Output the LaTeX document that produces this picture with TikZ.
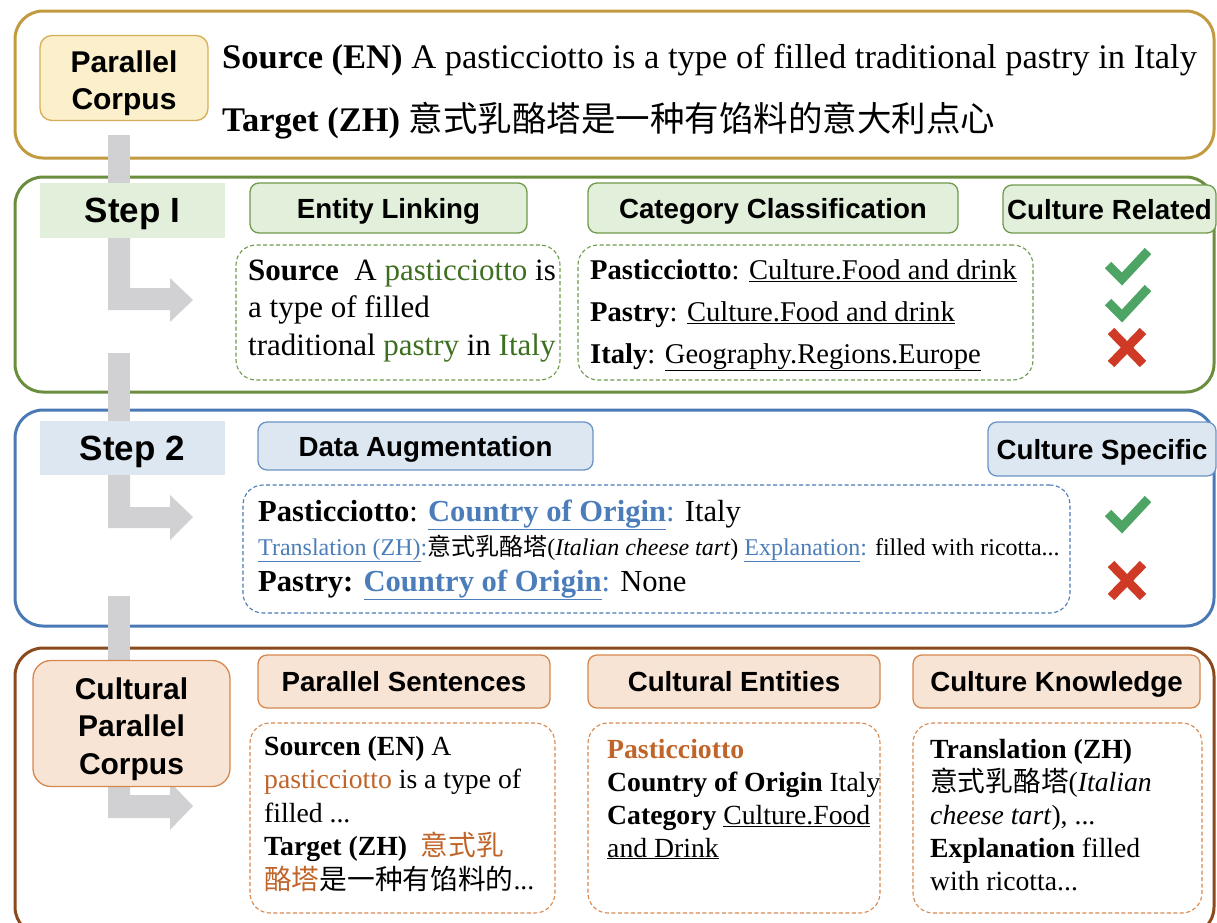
\documentclass[tikz,border=0pt]{standalone}
\usepackage{fontspec}
\setmainfont{Liberation Serif}
\setsansfont{Liberation Sans}
\newfontfamily\cjk{Noto Sans CJK SC}
\definecolor{gold}{HTML}{C29A3F}
\definecolor{yelfill}{HTML}{FCEFCB}
\definecolor{yelborder}{HTML}{D6AE58}
\definecolor{grnline}{HTML}{6A8E3E}
\definecolor{grnfill}{HTML}{E2EFDA}
\definecolor{grnhdr}{HTML}{6F9A4C}
\definecolor{grntext}{HTML}{3E6E20}
\definecolor{bluline}{HTML}{4A7AB6}
\definecolor{blufill}{HTML}{DDE7F2}
\definecolor{bluhdr}{HTML}{6C93C6}
\definecolor{blutext}{HTML}{4A7DBA}
\definecolor{brnline}{HTML}{8A4A1E}
\definecolor{orgfill}{HTML}{F8E4D5}
\definecolor{orghdr}{HTML}{D5874E}
\definecolor{orgtext}{HTML}{C0652A}
\definecolor{barcol}{HTML}{D1D0D2}
\definecolor{okgreen}{HTML}{4DA465}
\definecolor{nored}{HTML}{CF3A26}
\newcommand{\ul}[1]{\underline{#1}}
\tikzset{
  section/.style={draw, line width=3pt, rounded corners=28pt},
  hdr/.style={draw, line width=1.3pt, rounded corners=9pt, inner sep=0pt, text depth=0pt,
    font=\sffamily\bfseries\fontsize{27.7}{32}\selectfont},
  hdrG/.style={hdr, fill=grnfill, draw=grnhdr},
  hdrB/.style={hdr, fill=blufill, draw=bluhdr},
  hdrO/.style={hdr, fill=orgfill, draw=orghdr},
  steplabel/.style={inner sep=0pt, text depth=0pt, font=\sffamily\bfseries\fontsize{35}{40}\selectfont},
  dbox/.style={draw, line width=1.1pt, dash pattern=on 4pt off 2.5pt, rounded corners=20pt, inner sep=0pt},
  txt/.style={anchor=base west, align=left, inner sep=0pt},
  ctxt/.style={align=center, inner sep=0pt},
  bar/.style={fill=barcol, draw=none},
  okmark/.style={draw=okgreen, line width=9pt, line cap=butt, line join=miter},
  nomark/.style={draw=nored, line width=9pt},
}
\begin{document}
\begin{tikzpicture}[x=1pt, y=-1pt]
\useasboundingbox (0,0) rectangle (1217,922);

% section frames
\draw[section, draw=gold] (15,11) rectangle (1214,158);
\draw[section, draw=grnline] (15,177) rectangle (1214,392);
\draw[section, draw=bluline] (15,410) rectangle (1214,626);
\draw[section, draw=brnline] (15,648) rectangle (1214,935);

% gray flow bars
\fill[bar] (108,135) rectangle (130,200);
\fill[bar] (108,225) -- (130,225) -- (130,288) -- (170,288) -- (170,278) -- (193,300)
  -- (170,322) -- (170,310) -- (108,310) -- cycle;
\fill[bar] (108,353) rectangle (130,430);
\fill[bar] (108,465) -- (130,465) -- (130,507) -- (170,507) -- (170,495) -- (193,517)
  -- (170,540) -- (170,528) -- (108,528) -- cycle;
\fill[bar] (108,596) rectangle (130,680);
\fill[bar] (108,770) -- (130,770) -- (130,795) -- (170,795) -- (170,782) -- (193,806)
  -- (170,830) -- (170,818) -- (108,818) -- cycle;

% ---------- Parallel corpus ----------
\node[draw=yelborder, fill=yelfill, line width=1.3pt, rounded corners=12pt,
  minimum width=168pt, minimum height=85pt] (pc) at (124,78) {};
\node[ctxt, font=\sffamily\bfseries\fontsize{30}{37}\selectfont] (pct) at (124,83.5) {Parallel\\Corpus};
\node[txt, font=\fontsize{34.5}{40}\selectfont] (src) at (222,68)
  {\textbf{Source (EN)} A pasticciotto is a type of filled traditional pastry in Italy};
\node[txt, font=\fontsize{34.5}{40}\selectfont] (tgt) at (222,131)
  {\textbf{Target (ZH)} {\cjk 意式乳酪塔是一种有馅料的意大利点心}};

% ---------- Step I ----------
\node[steplabel, fill=grnfill, minimum width=185pt, minimum height=55pt] (s1) at (132.5,210.5) {Step I};
\node[hdrG, minimum width=277pt, minimum height=50pt] (el) at (388.5,208) {Entity Linking};
\node[hdrG, minimum width=370pt, minimum height=50pt] (cc) at (773,208) {Category Classification};
\node[hdrG, minimum width=213pt, minimum height=48pt] (cr) at (1109.5,209) {Culture Related};
\node[dbox, draw=grnhdr, minimum width=324pt, minimum height=135pt] (elb) at (398,312.5) {};
\node[dbox, draw=grnhdr, minimum width=455pt, minimum height=135pt] (ccb) at (805.5,312.5) {};
\node[txt, font=\fontsize{31}{37.5}\selectfont] (elt) at (248,355)
  {\textbf{Source}\ \ A \textcolor{grntext}{pasticciotto} is\\
   a type of filled\\
   traditional \textcolor{grntext}{pastry} in \textcolor{grntext}{Italy}};
\node[txt, font=\fontsize{28.6}{42}\selectfont] (cct) at (590,363)
  {\textbf{Pasticciotto}: \ul{Culture.Food and drink}\\
   \textbf{Pastry}: \ul{Culture.Food and drink}\\
   \textbf{Italy}: \ul{Geography.Regions.Europe}};
\draw[okmark] (1108,265) -- (1122,279) -- (1148,251);
\draw[okmark] (1108,302) -- (1122,316) -- (1148,288);
\draw[nomark] (1111,331) -- (1143,364) (1143,331) -- (1111,364);

% ---------- Step 2 ----------
\node[steplabel, fill=blufill, minimum width=185pt, minimum height=54pt] (s2) at (132.5,448) {Step 2};
\node[hdrB, minimum width=335pt, minimum height=48pt] (da) at (425.5,446) {Data Augmentation};
\node[hdrB, minimum width=228pt, minimum height=54pt] (cs) at (1102,449) {Culture Specific};
\node[dbox, draw=bluline, minimum width=827pt, minimum height=128pt] (dab) at (656.5,549) {};
\node[txt, font=\fontsize{30.6}{36}\selectfont] (da1) at (258,521)
  {\textbf{Pasticciotto}: \textcolor{blutext}{\textbf{\ul{Country of Origin}}:} Italy};
\node[txt, font=\fontsize{24}{28}\selectfont] (da2) at (258,555)
  {\textcolor{blutext}{\ul{Translation (ZH)}:}{\cjk 意式乳酪塔}(\textit{Italian cheese tart}) \textcolor{blutext}{\ul{Explanation}:} filled with ricotta...};
\node[txt, font=\fontsize{30.6}{36}\selectfont] (da3) at (258,591)
  {\textbf{Pastry: }\textcolor{blutext}{\textbf{\ul{Country of Origin}}:} None};
\draw[okmark] (1108,513) -- (1122,527) -- (1148,499);
\draw[nomark] (1111,564) -- (1143,597) (1143,564) -- (1111,597);

% ---------- Cultural Parallel Corpus ----------
\node[draw=orghdr, fill=orgfill, line width=1.3pt, rounded corners=18pt,
  minimum width=197pt, minimum height=126pt] (cpc) at (131.5,723.5) {};
\node[ctxt, font=\sffamily\bfseries\fontsize{30}{37.5}\selectfont] (cpct) at (131.5,729) {Cultural\\Parallel\\Corpus};
\node[hdrO, minimum width=292pt, minimum height=53pt] (ps) at (404,681.5) {Parallel Sentences};
\node[hdrO, minimum width=292pt, minimum height=53pt] (ce) at (734,681.5) {Cultural Entities};
\node[hdrO, minimum width=287pt, minimum height=53pt] (ck) at (1056.5,681.5) {Culture Knowledge};
\node[dbox, draw=orghdr, minimum width=305pt, minimum height=190pt] (psb) at (402.5,818) {};
\node[dbox, draw=orghdr, minimum width=292pt, minimum height=190pt] (ceb) at (734,818) {};
\node[dbox, draw=orghdr, minimum width=289pt, minimum height=190pt] (ckb) at (1057.5,818) {};
\node[txt, font=\fontsize{27.7}{33.5}\selectfont] (pst) at (264,889)
  {\textbf{Sourcen (EN)} A\\
   \textcolor{orgtext}{pasticciotto} is a type of\\
   filled ...\\
   \textbf{Target (ZH)}\ \ \textcolor{orgtext}{\cjk 意式乳}\\
   {\cjk\textcolor{orgtext}{酪塔}是一种有馅料的}...};
\node[txt, font=\fontsize{27.7}{33}\selectfont] (cet) at (607,857)
  {\textbf{\textcolor{orgtext}{Pasticciotto}}\\
   \textbf{Country of Origin} Italy\\
   \textbf{Category} \ul{Culture.Food}\\
   \ul{and Drink}};
\node[txt, font=\fontsize{27.7}{33}\selectfont] (ckt) at (930,890)
  {\textbf{Translation (ZH)}\\
   {\cjk 意式乳酪塔}(\textit{Italian}\\
   \textit{cheese tart}), ...\\
   \textbf{Explanation} filled\\
   with ricotta...};
\end{tikzpicture}
\end{document}
